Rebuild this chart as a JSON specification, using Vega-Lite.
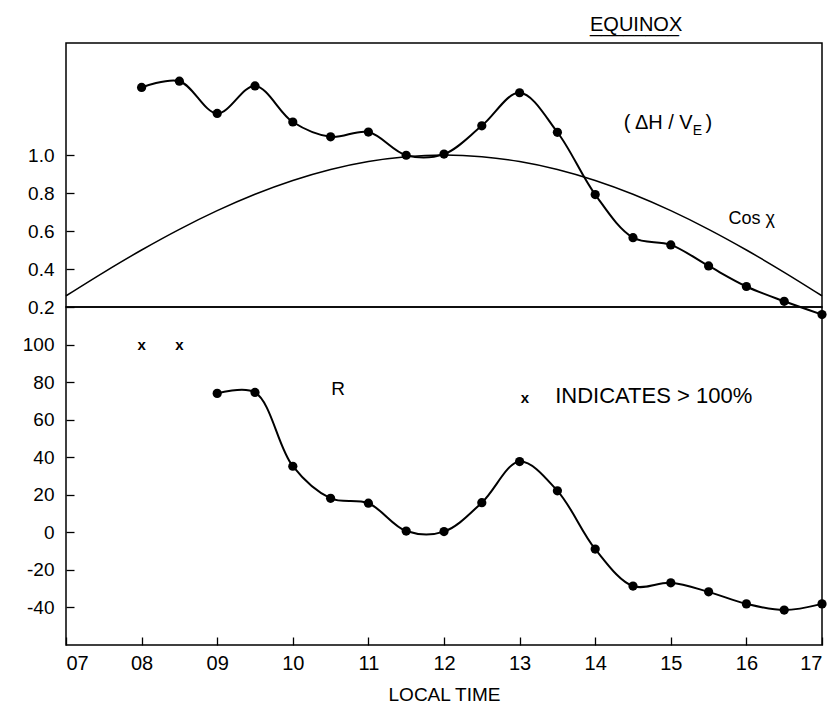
{
  "$schema": "https://vega.github.io/schema/vega-lite/v6.json",
  "padding": {"top": 15, "left": 5, "right": 5, "bottom": 5},
  "background": "white",
  "bounds": "flush",
  "title": {"text": "EQUINOX", "subtitle": "________", "anchor": "start", "frame": "group", "dx": 524, "offset": 6, "fontSize": 20, "subtitleFontSize": 20, "subtitlePadding": -19, "font": "Liberation Sans", "subtitleFont": "Liberation Sans", "fontWeight": "normal", "color": "black", "subtitleColor": "black"},
  "config": {
    "view": {"stroke": "black", "strokeWidth": 1.5},
    "axis": {"domain": false, "grid": false, "zindex": 1, "tickColor": "black", "tickSize": 8, "offset": -8, "tickWidth": 1.3, "labelFont": "Liberation Sans", "labelColor": "black", "labelFontSize": 19, "titleFont": "Liberation Sans", "titleColor": "black", "titleFontWeight": "normal"},
    "text": {"font": "Liberation Sans", "color": "black"}
  },
  "datasets": {
    "dh": [
      {"hour": 8, "value": 1.356}, {"hour": 8.5, "value": 1.389}, {"hour": 9, "value": 1.219},
      {"hour": 9.5, "value": 1.364}, {"hour": 10, "value": 1.174}, {"hour": 10.5, "value": 1.096},
      {"hour": 11, "value": 1.121}, {"hour": 11.5, "value": 0.999}, {"hour": 12, "value": 1.005},
      {"hour": 12.5, "value": 1.154}, {"hour": 13, "value": 1.328}, {"hour": 13.5, "value": 1.12},
      {"hour": 14, "value": 0.792}, {"hour": 14.5, "value": 0.565}, {"hour": 15, "value": 0.527},
      {"hour": 15.5, "value": 0.416}, {"hour": 16, "value": 0.308}, {"hour": 16.5, "value": 0.23},
      {"hour": 17, "value": 0.16}
    ],
    "cosx": [
      {"hour": 7, "value": 0.2588}, {"hour": 7.5, "value": 0.3827}, {"hour": 8, "value": 0.5},
      {"hour": 8.5, "value": 0.6088}, {"hour": 9, "value": 0.7071}, {"hour": 9.5, "value": 0.7934},
      {"hour": 10, "value": 0.866}, {"hour": 10.5, "value": 0.9239}, {"hour": 11, "value": 0.9659},
      {"hour": 11.5, "value": 0.9914}, {"hour": 12, "value": 1.0}, {"hour": 12.5, "value": 0.9914},
      {"hour": 13, "value": 0.9659}, {"hour": 13.5, "value": 0.9239}, {"hour": 14, "value": 0.866},
      {"hour": 14.5, "value": 0.7934}, {"hour": 15, "value": 0.7071}, {"hour": 15.5, "value": 0.6088},
      {"hour": 16, "value": 0.5}, {"hour": 16.5, "value": 0.3827}, {"hour": 17, "value": 0.2588}
    ],
    "r": [
      {"hour": 9, "value": 74.0}, {"hour": 9.5, "value": 74.5}, {"hour": 10, "value": 35.2},
      {"hour": 10.5, "value": 18.1}, {"hour": 11, "value": 15.5}, {"hour": 11.5, "value": 0.7},
      {"hour": 12, "value": 0.4}, {"hour": 12.5, "value": 15.8}, {"hour": 13, "value": 37.7},
      {"hour": 13.5, "value": 22.1}, {"hour": 14, "value": -8.9}, {"hour": 14.5, "value": -28.6},
      {"hour": 15, "value": -26.9}, {"hour": 15.5, "value": -31.7}, {"hour": 16, "value": -38.1},
      {"hour": 16.5, "value": -41.4}, {"hour": 17, "value": -38.1}
    ],
    "over": [
      {"hour": 8, "value": 100, "text": "x"}, {"hour": 8.5, "value": 100, "text": "x"},
      {"hour": 13.07, "value": 71.5, "text": "x"}
    ],
    "toplabels": [
      {"hour": 16.07, "value": 0.664, "text": "Cos χ"}
    ],
    "botlabels": [
      {"hour": 10.6, "value": 76.5, "text": "R"}
    ]
  },
  "vconcat": [
    {
      "width": 756,
      "height": 264,
      "layer": [
        {
          "data": {"name": "cosx"},
          "mark": {"type": "line", "color": "black", "strokeWidth": 1.5, "interpolate": "monotone"},
          "encoding": {
            "x": {"field": "hour", "type": "quantitative", "scale": {"domain": [7, 17], "nice": false}, "axis": null},
            "y": {"field": "value", "type": "quantitative", "scale": {"domain": [0.2, 1.59], "nice": false, "zero": false},
              "axis": {"values": [0.2, 0.4, 0.6, 0.8, 1.0], "format": ".1f", "title": null, "labelPadding": 12, "minExtent": 68, "maxExtent": 68}}
          }
        },
        {
          "data": {"name": "dh"},
          "mark": {"type": "line", "color": "black", "strokeWidth": 2, "interpolate": "catmull-rom"},
          "encoding": {
            "x": {"field": "hour", "type": "quantitative"},
            "y": {"field": "value", "type": "quantitative"}
          }
        },
        {
          "data": {"name": "dh"},
          "mark": {"type": "point", "filled": true, "shape": "circle", "color": "black", "size": 85, "opacity": 1},
          "encoding": {
            "x": {"field": "hour", "type": "quantitative"},
            "y": {"field": "value", "type": "quantitative"}
          }
        },
        {
          "data": {"name": "toplabels"},
          "mark": {"type": "text", "fontSize": 18, "align": "center", "baseline": "middle"},
          "encoding": {
            "x": {"field": "hour", "type": "quantitative"},
            "y": {"field": "value", "type": "quantitative"},
            "text": {"field": "text"}
          }
        },
        {
          "data": {"values": [{"hour": 15.29, "value": 1.17, "text": "(  ΔH / V"}]},
          "mark": {"type": "text", "fontSize": 20, "align": "right", "baseline": "middle"},
          "encoding": {
            "x": {"field": "hour", "type": "quantitative"},
            "y": {"field": "value", "type": "quantitative"},
            "text": {"field": "text"}
          }
        },
        {
          "data": {"values": [{"hour": 15.29, "value": 1.17, "text": "E"}]},
          "mark": {"type": "text", "fontSize": 14, "align": "left", "baseline": "middle", "dy": 8},
          "encoding": {
            "x": {"field": "hour", "type": "quantitative"},
            "y": {"field": "value", "type": "quantitative"},
            "text": {"field": "text"}
          }
        },
        {
          "data": {"values": [{"hour": 15.46, "value": 1.17, "text": ")"}]},
          "mark": {"type": "text", "fontSize": 20, "align": "left", "baseline": "middle"},
          "encoding": {
            "x": {"field": "hour", "type": "quantitative"},
            "y": {"field": "value", "type": "quantitative"},
            "text": {"field": "text"}
          }
        }
      ]
    },
    {
      "width": 756,
      "height": 338,
      "layer": [
        {
          "mark": {"type": "rule", "color": "black", "strokeWidth": 1.2},
          "encoding": {
            "y": {"datum": 0, "type": "quantitative", "scale": {"domain": [-60, 120], "nice": false, "zero": false},
              "axis": {"values": [-40, -20, 0, 20, 40, 60, 80, 100], "labelExpr": "'' + datum.value", "title": null, "labelPadding": 12, "minExtent": 68, "maxExtent": 68}}
          }
        },
        {
          "data": {"name": "r"},
          "mark": {"type": "line", "color": "black", "strokeWidth": 2, "interpolate": "catmull-rom"},
          "encoding": {
            "x": {"field": "hour", "type": "quantitative", "scale": {"domain": [7, 17], "nice": false},
              "axis": {"values": [7, 8, 9, 10, 11, 12, 13, 14, 15, 16, 17], "labelExpr": "datum.value < 10 ? '0' + datum.value : '' + datum.value", "labelFontSize": 20, "labelPadding": 8, "title": "LOCAL TIME", "titleFontSize": 19, "titlePadding": 12}},
            "y": {"field": "value", "type": "quantitative"}
          }
        },
        {
          "data": {"name": "r"},
          "mark": {"type": "point", "filled": true, "shape": "circle", "color": "black", "size": 85, "opacity": 1},
          "encoding": {
            "x": {"field": "hour", "type": "quantitative"},
            "y": {"field": "value", "type": "quantitative"}
          }
        },
        {
          "data": {"name": "over"},
          "mark": {"type": "text", "fontSize": 15, "fontWeight": "bold", "align": "center", "baseline": "middle"},
          "encoding": {
            "x": {"field": "hour", "type": "quantitative"},
            "y": {"field": "value", "type": "quantitative"},
            "text": {"field": "text"}
          }
        },
        {
          "data": {"name": "botlabels"},
          "mark": {"type": "text", "fontSize": 19, "align": "center", "baseline": "middle"},
          "encoding": {
            "x": {"field": "hour", "type": "quantitative"},
            "y": {"field": "value", "type": "quantitative"},
            "text": {"field": "text"}
          }
        },
        {
          "data": {"values": [{"hour": 13.47, "value": 72.4, "text": "INDICATES > 100%"}]},
          "mark": {"type": "text", "fontSize": 22, "align": "left", "baseline": "middle"},
          "encoding": {
            "x": {"field": "hour", "type": "quantitative"},
            "y": {"field": "value", "type": "quantitative"},
            "text": {"field": "text"}
          }
        }
      ]
    }
  ],
  "spacing": 0
}
